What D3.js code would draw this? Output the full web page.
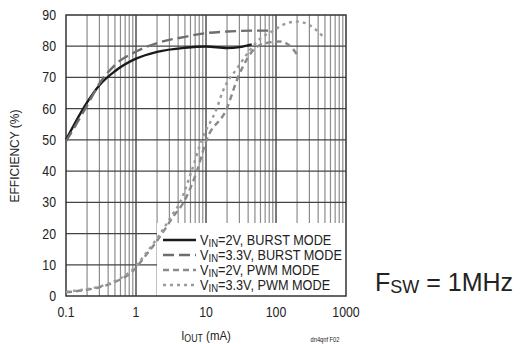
<!DOCTYPE html>
<html>
<head>
<meta charset="utf-8">
<script src="https://cdn.jsdelivr.net/npm/d3@7"></script>
<style>
  body { margin: 0; background: #fff; }
  text { font-family: "Liberation Sans", Arial, sans-serif; fill: #222; }
</style>
</head>
<body>
<svg width="524" height="344"></svg>
<script>
const width = 524, height = 344;
const svg = d3.select("svg");

// tick labels
const xTicks = [0.1, 1, 10, 100, 1000];
const xTickLabels = ["0.1", "1", "10", "100", "1000"];
const yTicks = [0, 10, 20, 30, 40, 50, 60, 70, 80, 90];

// series: load current (mA) and efficiency (%)
const burst2I   = [0.1, 0.2, 0.3, 0.5, 1, 2, 5, 10, 20, 30, 45];
const burst2Eff = [50, 62, 67.5, 72, 76, 78.2, 79.5, 79.9, 79.4, 79.7, 80.6];

const burst33I   = [0.1, 0.2, 0.3, 0.5, 1, 2, 5, 10, 20, 50, 87];
const burst33Eff = [49.5, 61, 68, 74, 78.3, 81, 83, 84.2, 84.7, 85, 85];

const pwm2I   = [0.1, 0.2, 0.3, 0.5, 0.9, 1.4, 2.2, 3.4, 4.7, 7.4, 10.2, 19.8, 28.6, 55, 85, 114, 160, 210];
const pwm2Eff = [1.2, 2, 2.8, 4.5, 8, 13.2, 19, 25.4, 29.7, 39.9, 50, 60, 70, 80, 81.3, 81.5, 80, 76.7];

const pwm33I   = [0.1, 0.2, 0.3, 0.5, 0.9, 1.4, 2.2, 3.4, 4.2, 6.2, 8.7, 14.2, 17.7, 28, 42.6, 60, 87, 130, 200, 300, 470];
const pwm33Eff = [1.4, 2.2, 3, 4.8, 8.5, 13.8, 19.8, 26.5, 29.7, 39.9, 50, 60, 66, 73, 78.8, 82.5, 84.7, 87, 87.9, 86.8, 83.1];

const seriesNames = ["2V, BURST MODE", "3.3V, BURST MODE", "2V, PWM MODE", "3.3V, PWM MODE"];

const series = [
  { name: seriesNames[0], xs: burst2I, ys: burst2Eff, color: "#1a1a1a", dash: null, w: 2.4 },
  { name: seriesNames[1], xs: burst33I, ys: burst33Eff, color: "#6e6e6e", dash: "11,5", w: 2.4 },
  { name: seriesNames[2], xs: pwm2I, ys: pwm2Eff, color: "#8a8a8a", dash: "6,4", w: 2.4 },
  { name: seriesNames[3], xs: pwm33I, ys: pwm33Eff, color: "#9a9a9a", dash: "3,4", w: 2.4 }
];

const pl = 66, pr = 346, pt = 15, pb = 296;
const x = d3.scaleLog().domain([0.1, 1000]).range([pl, pr]);
const y = d3.scaleLinear().domain([0, 90]).range([pb, pt]);
const narrow = 0.88;

// grid: minor verticals
const minor = [];
for (let dec = 0.1; dec < 1000; dec *= 10) {
  for (let k = 2; k <= 9; k++) minor.push(+(dec * k).toPrecision(3));
}
svg.append("g").selectAll("line").data(minor).enter().append("line")
  .attr("x1", d => x(d)).attr("x2", d => x(d))
  .attr("y1", pt).attr("y2", pb)
  .attr("stroke", "#8c8c8c").attr("stroke-width", 1.2);

svg.append("g").selectAll("line").data(xTicks.slice(1, -1)).enter().append("line")
  .attr("x1", d => x(d)).attr("x2", d => x(d))
  .attr("y1", pt).attr("y2", pb)
  .attr("stroke", "#333").attr("stroke-width", 1.3);

svg.append("g").selectAll("line").data(yTicks.slice(1, -1)).enter().append("line")
  .attr("x1", pl).attr("x2", pr)
  .attr("y1", d => y(d)).attr("y2", d => y(d))
  .attr("stroke", "#444").attr("stroke-width", 1.3);

// legend background covers grid
svg.append("rect").attr("x", 157).attr("y", 223).attr("width", pr - 157).attr("height", pb - 223)
  .attr("fill", "#fff");

// frame
svg.append("rect").attr("x", pl).attr("y", pt).attr("width", pr - pl).attr("height", pb - pt)
  .attr("fill", "none").attr("stroke", "#333").attr("stroke-width", 1.5);

// curves
const line = d3.line().curve(d3.curveMonotoneX);
svg.append("g").selectAll("path").data(series).enter().append("path")
  .attr("d", s => line(s.xs.map((v, i) => [x(v), y(s.ys[i])])))
  .attr("fill", "none")
  .attr("stroke", s => s.color)
  .attr("stroke-width", s => s.w)
  .attr("stroke-dasharray", s => s.dash);

// axis labels (narrowed like the original condensed face)
svg.append("g").selectAll("text").data(yTicks).enter().append("text")
  .attr("transform", d => `translate(56,${y(d) + 5}) scale(${narrow},1)`)
  .attr("text-anchor", "end").attr("font-size", 14)
  .text(d => d);

svg.append("g").selectAll("text").data(xTicks).enter().append("text")
  .attr("transform", d => `translate(${x(d)},317) scale(${narrow},1)`)
  .attr("text-anchor", "middle").attr("font-size", 14)
  .text((d, i) => xTickLabels[i]);

const yl = svg.append("text").attr("text-anchor", "middle").attr("font-size", 12)
  .text("EFFICIENCY (%)");
const ylScale = 93 / yl.node().getComputedTextLength();
yl.attr("transform", `translate(19,156) rotate(-90) scale(${ylScale},1)`);

const xl = svg.append("text").attr("transform", `translate(206,340) scale(${narrow},1)`)
  .attr("text-anchor", "middle").attr("font-size", 13);
xl.append("tspan").text("I");
xl.append("tspan").attr("font-size", 10).attr("dy", 2).text("OUT");
xl.append("tspan").attr("dy", -2).text(" (mA)");

svg.append("text").attr("transform", `translate(325,342) scale(${narrow},1)`).attr("text-anchor", "middle")
  .attr("font-size", 6.5).attr("fill", "#555").text("dn4qnf F02");

// legend
const legRows = [240, 255, 270, 285];
const leg = svg.append("g").selectAll("g").data(series).enter().append("g");
leg.append("line")
  .attr("x1", 163).attr("x2", 196)
  .attr("y1", (d, i) => legRows[i]).attr("y2", (d, i) => legRows[i])
  .attr("stroke", d => d.color).attr("stroke-width", d => d.w)
  .attr("stroke-dasharray", d => d.dash);
const lt = leg.append("text").attr("font-size", 14);
lt.append("tspan").text("V");
lt.append("tspan").attr("font-size", 10.5).attr("dy", 2).text("IN");
lt.append("tspan").attr("dy", -2).text(d => "=" + d.name);
// fit widest entry to the width it has in the original (about 142px)
const legScale = 142 / lt.nodes()[1].getComputedTextLength();
lt.attr("transform", (d, i) => `translate(200,${legRows[i] + 5}) scale(${legScale},1)`);

// switching frequency note
const fsw = svg.append("text").attr("x", 375).attr("y", 291)
  .attr("font-family", "Roboto, sans-serif").attr("font-weight", 300)
  .attr("font-size", 25).attr("fill", "#3a3a3a");
fsw.append("tspan").text("F");
fsw.append("tspan").attr("font-size", 18).attr("dy", 2).text("SW");
fsw.append("tspan").attr("dy", -2).text(" = 1MHz");
</script>
</body>
</html>
